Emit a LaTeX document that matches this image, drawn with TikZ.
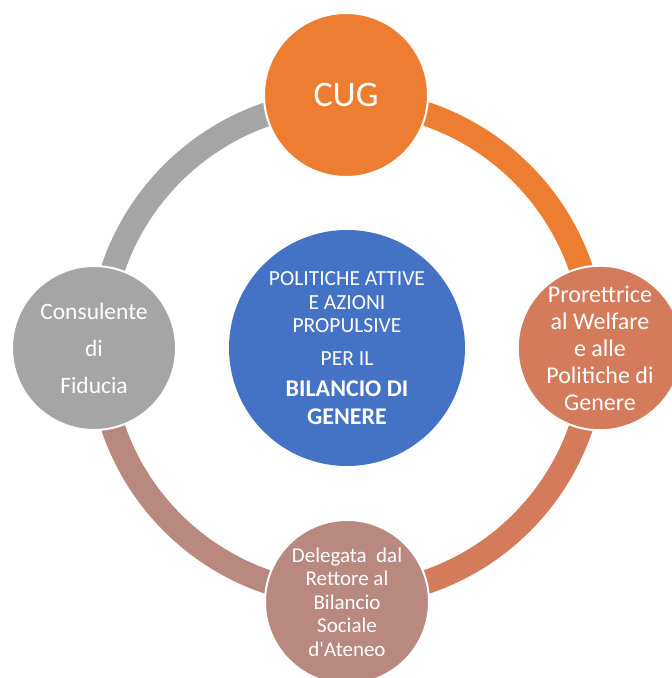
\documentclass[tikz,border=0pt]{standalone}
\usepackage{fontspec}
\setmainfont{Carlito}
\definecolor{cugorange}{HTML}{ED7D31}
\definecolor{welfare}{HTML}{D37B5B}
\definecolor{delegata}{HTML}{B9897F}
\definecolor{fiducia}{HTML}{A5A5A5}
\definecolor{hubblue}{HTML}{4472C4}
\begin{document}
\begin{tikzpicture}
  [x=1pt, y=1pt,
    every petal/.style={
      circle,
      draw=white,
      line width=2pt,
      minimum size=164pt,
      inner sep=0pt,
      text=white,
      align=center
    },
    ring/.style={
      line width=24pt
    },
  ]
\clip (0,0) rectangle (672,678);
\useasboundingbox (0,0) rectangle (672,678);

% Draw centre node
\node [circle, fill=hubblue, minimum size=236pt, inner sep=0pt, text=white, align=center,
  font=\fontsize{21.5}{23.5}\selectfont] (hub) at (347,330)
  {POLITICHE ATTIVE\\E AZIONI\\PROPULSIVE\\[9pt]PER IL\\[8pt]
   \fontsize{24}{28}\selectfont\bfseries BILANCIO DI\\[4pt]
   \fontsize{24}{28}\selectfont\bfseries GENERE};

% Draw ring segments
\foreach \a/\c in {90/cugorange, 0/welfare, -90/delegata, 180/fiducia}
  \draw [ring, draw=\c] (hub.center) ++(\a:247) arc [start angle=\a, delta angle=-90, radius=247];

% Draw outer nodes
\node [every petal, fill=cugorange, font=\fontsize{36}{40}\selectfont] (cug) at (346,583) {CUG};
\node [every petal, fill=welfare, font=\fontsize{24}{27}\selectfont] (prorettrice) at (600,330)
  {Prorettrice\\al Welfare\\e alle\\Politiche di\\Genere};
\node [every petal, fill=delegata, font=\fontsize{21}{23.5}\selectfont] (delegata) at (347,76)
  {Delegata\ \ dal\\Rettore al\\Bilancio\\Sociale\\d\textquotesingle Ateneo};
\node [every petal, fill=fiducia, font=\fontsize{23.5}{37}\selectfont] (consulente) at (94,330)
  {Consulente\\di\\Fiducia};
\end{tikzpicture}
\end{document}
